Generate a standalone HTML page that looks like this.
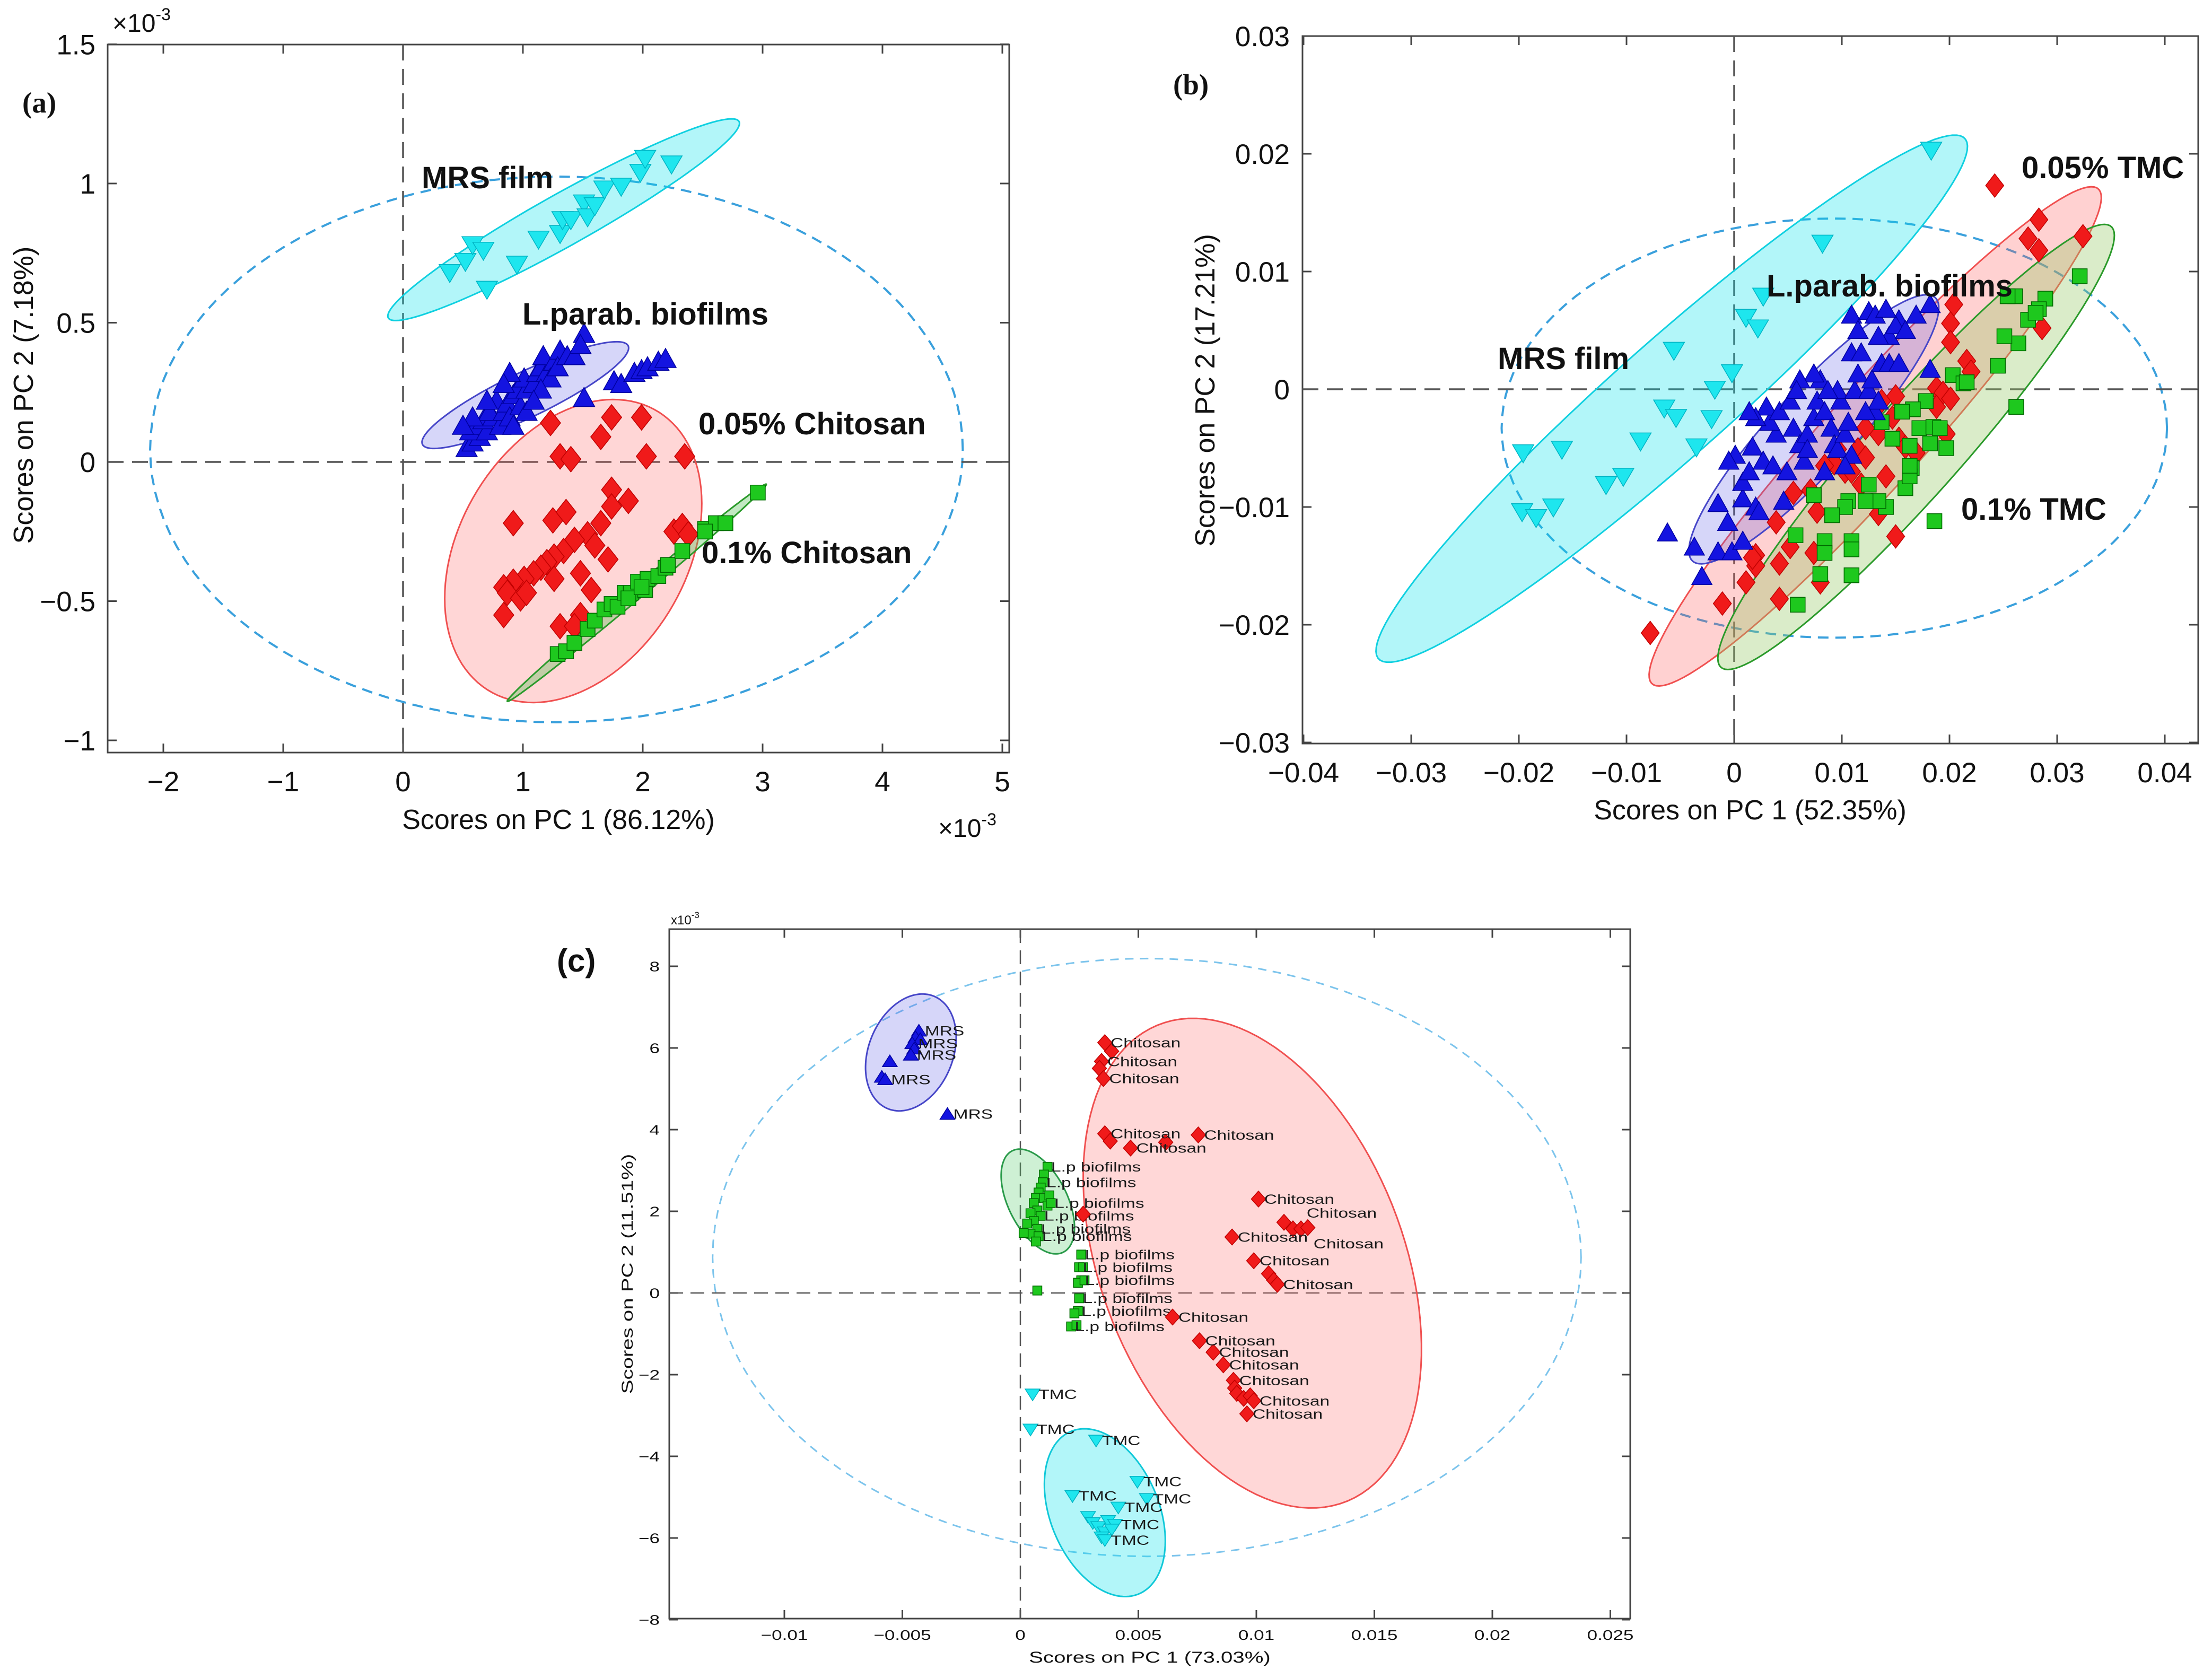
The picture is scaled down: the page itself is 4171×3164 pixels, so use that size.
<!DOCTYPE html>
<html><head><meta charset="utf-8"><title>PCA score plots</title>
<style>html,body{margin:0;padding:0;background:#fff}svg{display:block}</style></head>
<body>
<svg id="fig" xmlns="http://www.w3.org/2000/svg" width="4171" height="3164" viewBox="0 0 4171 3164">
<rect x="0" y="0" width="4171" height="3164" fill="#fff"/>
</svg>
<script>
// ---------- Panel (a) data (x, y in units of 1e-3) ----------
const A_XTICKS=[-2,-1,0,1,2,3,4,5];
const A_XTICK_LABELS=['\u22122','\u22121','0','1','2','3','4','5'];
const A_YTICKS=[-1,-0.5,0,0.5,1,1.5];
const A_YTICK_LABELS=['\u22121','\u22120.5','0','0.5','1','1.5'];
const A_MRS_X=[0.39,0.52,0.58,0.67,0.70,0.95,1.13,1.31,1.33,1.40,1.51,1.54,1.60,1.68,1.82,1.98,2.02,2.24];
const A_MRS_Y=[0.68,0.72,0.78,0.76,0.62,0.71,0.80,0.82,0.87,0.87,0.93,0.88,0.92,0.98,0.99,1.04,1.09,1.07];
const A_LP_X=[0.53,0.58,0.64,0.56,0.61,0.70,0.67,0.75,0.81,0.72,0.84,0.78,0.87,0.92,0.89,0.98,0.95,1.03,1.01,1.09,1.12,1.15,1.20,1.17,1.26,1.23,1.31,1.29,1.37,1.43,1.51,1.48,0.89,0.84,0.70,0.58,0.50,1.51,1.76,1.82,1.93,1.99,2.04,2.13,2.19,1.03,0.92,1.15,1.09];
const A_LP_Y=[0.05,0.07,0.09,0.11,0.13,0.11,0.15,0.16,0.13,0.18,0.18,0.22,0.21,0.24,0.16,0.20,0.26,0.26,0.30,0.28,0.32,0.34,0.32,0.38,0.36,0.30,0.40,0.34,0.38,0.38,0.46,0.42,0.32,0.28,0.22,0.16,0.13,0.23,0.29,0.28,0.32,0.33,0.34,0.36,0.37,0.18,0.13,0.26,0.22];
const A_CH05_X=[1.23,1.74,1.99,1.65,2.03,2.35,1.31,1.40,1.74,1.88,1.74,0.92,1.25,1.36,1.65,1.54,1.60,2.26,2.33,2.38,1.43,1.34,1.26,1.20,1.15,1.09,1.01,0.92,0.84,0.87,0.98,1.03,0.84,1.31,1.48,1.57,1.71,1.48,1.26,1.43];
const A_CH05_Y=[0.14,0.16,0.16,0.09,0.02,0.02,0.02,0.01,-0.10,-0.14,-0.16,-0.22,-0.21,-0.18,-0.22,-0.26,-0.30,-0.25,-0.23,-0.26,-0.28,-0.32,-0.34,-0.36,-0.38,-0.40,-0.42,-0.43,-0.45,-0.47,-0.49,-0.47,-0.55,-0.59,-0.55,-0.46,-0.35,-0.40,-0.42,-0.59];
const A_CH01_X=[1.29,1.36,1.43,1.54,1.60,1.68,1.74,1.79,1.85,1.90,1.96,2.02,2.04,2.13,2.19,2.21,2.33,2.52,2.61,2.69,2.96,2.52,1.88,1.99];
const A_CH01_Y=[-0.69,-0.68,-0.65,-0.60,-0.57,-0.53,-0.51,-0.52,-0.47,-0.47,-0.43,-0.46,-0.42,-0.41,-0.38,-0.37,-0.32,-0.24,-0.22,-0.22,-0.11,-0.25,-0.49,-0.45];
const A_MRS_ELL=[1.34,0.87,1.46,0.355,0.146,-0.072];
const A_LP_ELL=[1.02,0.24,0.854,0.18,0.118,-0.066];
const A_CH05_ELL=[1.42,-0.32,0.534,0.533,0.93,-0.11];
const A_CH01_ELL=[1.95,-0.47,1.08,0.39,0.04,-0.014];
const A_T2_ELL=[1.28,0.045,3.39,0,0,0.98];

// ---------- Panel (b) data (x, y in units of 0.01) ----------
const B_XTICKS=[-4,-3,-2,-1,0,1,2,3,4];
const B_XTICK_LABELS=['\u22120.04','\u22120.03','\u22120.02','\u22120.01','0','0.01','0.02','0.03','0.04'];
const B_YTICKS=[-3,-2,-1,0,1,2,3];
const B_YTICK_LABELS=['\u22120.03','\u22120.02','\u22120.01','0','0.01','0.02','0.03'];
const B_MRS_X=[-1.96,-1.60,-1.19,-1.03,-1.97,-1.84,-1.68,-0.87,-0.35,-0.56,-0.65,-0.54,-0.21,-0.18,-0.02,0.11,0.22,0.27,0.82,1.83];
const B_MRS_Y=[-0.54,-0.51,-0.81,-0.74,-1.04,-1.09,-1.00,-0.44,-0.49,0.33,-0.16,-0.24,-0.25,0.00,0.14,0.61,0.52,0.79,1.24,2.03];
const B_LP_X=[-0.62,-0.30,-0.37,-0.15,-0.02,0.08,-0.06,-0.15,0.08,0.20,0.23,0.08,0.14,0.01,-0.05,0.17,0.27,0.36,0.46,0.49,0.39,0.33,0.30,0.20,0.14,0.42,0.52,0.55,0.61,0.65,0.68,0.74,0.77,0.80,0.74,0.61,0.58,0.84,0.90,0.93,0.96,1.03,1.09,1.06,0.99,0.96,1.12,1.15,1.09,1.18,1.25,1.31,1.34,1.28,1.37,1.44,1.34,1.44,1.53,1.53,1.50,1.59,1.69,1.82,1.82,1.09,1.25,1.31,1.41,1.15,1.03,0.84,0.68,1.22,0.87];
const B_LP_Y=[-1.22,-1.59,-1.34,-1.38,-1.38,-1.29,-1.13,-0.97,-0.93,-1.00,-1.04,-0.79,-0.70,-0.56,-0.61,-0.49,-0.61,-0.65,-0.95,-0.70,-0.38,-0.28,-0.15,-0.24,-0.19,-0.19,-0.10,-0.33,-0.47,-0.61,-0.38,-0.24,-0.10,0.08,0.13,0.08,-0.01,-0.19,-0.33,-0.47,-0.51,-0.38,-0.56,-0.28,-0.10,-0.01,-0.01,0.13,0.31,0.31,-0.01,-0.19,-0.10,0.08,0.22,0.45,0.45,0.22,0.22,0.59,0.54,0.50,0.63,0.72,0.17,0.63,0.66,0.63,0.68,0.50,-0.65,-0.70,-0.51,-0.19,-0.01];
const B_T05_X=[2.42,2.83,2.73,2.83,3.24,2.86,2.04,2.01,2.01,2.16,2.20,1.88,1.94,2.01,1.88,1.97,1.50,1.47,1.53,1.59,1.69,1.37,1.34,1.15,0.96,0.93,1.03,1.41,1.34,1.50,1.18,0.39,0.55,0.77,0.74,0.80,0.52,0.42,0.20,0.20,0.17,0.11,0.42,-0.11,-0.78,1.22,1.09,0.71,0.84,1.22];
const B_T05_Y=[1.73,1.44,1.28,1.18,1.30,0.52,0.72,0.56,0.40,0.24,0.15,0.01,-0.03,-0.08,-0.15,-0.38,-0.06,-0.24,-0.42,-0.49,-0.54,-0.10,-0.38,-0.51,-0.51,-0.63,-0.70,-0.74,-1.06,-1.25,-0.81,-1.13,-0.88,-1.04,-1.39,-1.64,-1.34,-1.48,-1.41,-1.50,-1.43,-1.64,-1.78,-1.82,-2.07,-0.58,-0.70,-0.86,-0.65,-0.33];
const B_T01_X=[3.21,2.89,2.83,2.73,2.80,2.61,2.64,2.51,2.45,2.62,2.03,2.13,2.16,1.78,1.66,1.37,1.72,1.85,1.97,1.82,1.63,1.65,1.59,1.63,1.63,1.25,1.41,1.34,1.22,1.06,1.03,0.91,0.74,0.57,0.84,0.84,1.09,1.09,0.80,1.09,0.59,1.86,2.54,1.56,1.47,1.91];
const B_T01_Y=[0.96,0.77,0.68,0.59,0.65,0.79,0.39,0.45,0.20,-0.15,0.12,0.05,0.06,-0.10,-0.17,-0.28,-0.33,-0.32,-0.50,-0.46,-0.48,-0.67,-0.84,-0.74,-0.65,-0.81,-1.00,-0.95,-0.95,-0.95,-1.00,-1.07,-0.90,-1.24,-1.29,-1.39,-1.29,-1.36,-1.57,-1.58,-1.83,-1.12,0.79,-0.19,-0.42,-0.33];
const B_MRS_ELL=[-0.58,-0.08,2.71,2.22,0.45,-0.29];
const B_LP_ELL=[0.74,-0.34,1.11,1.13,0.34,-0.17];
const B_T05_ELL=[1.31,-0.40,2.06,2.11,0.41,-0.21];
const B_T01_ELL=[1.69,-0.49,1.80,1.88,0.39,-0.20];
const B_T2_ELL=[0.93,-0.33,3.09,0,0,1.78];

// ---------- Panel (c) data (x, y in units of 1e-3) ----------
const C_XTICKS=[-10,-5,0,5,10,15,20,25];
const C_XTICK_LABELS=['\u22120.01','\u22120.005','0','0.005','0.01','0.015','0.02','0.025'];
const C_YTICKS=[-8,-6,-4,-2,0,2,4,6,8];
const C_YTICK_LABELS=['\u22128','\u22126','\u22124','\u22122','0','2','4','6','8'];
const C_MRS_X=[-4.30,-4.44,-4.24,-4.58,-4.50,-4.64,-5.53,-5.87,-5.73,-3.09];
const C_MRS_Y=[6.42,6.26,6.21,6.11,5.98,5.83,5.67,5.29,5.23,4.38];
const C_MRS_LBL=['MRS','','','MRS','','MRS','','','MRS','MRS'];
const C_LP_X=[1.15,1.00,0.95,0.86,0.77,0.66,0.57,1.00,1.23,1.15,0.72,0.43,0.86,0.57,0.29,0.72,0.43,0.14,0.77,0.66,1.29,0.72,2.58,2.49,2.58,2.44,2.49,2.44,2.29,2.15,2.38,2.66,2.72];
const C_LP_Y=[3.09,2.90,2.71,2.58,2.46,2.33,2.20,2.33,2.39,2.14,2.02,1.95,1.89,1.76,1.70,1.57,1.45,1.47,1.39,1.26,2.20,0.06,0.94,0.63,0.31,0.25,-0.13,-0.44,-0.50,-0.82,-0.79,0.63,0.31];
const C_LP_LBL=['L.p biofilms','','L.p biofilms','','','','','','','','','','L.p biofilms','','','L.p biofilms','','','L.p biofilms','','L.p biofilms','','L.p biofilms','L.p biofilms','L.p biofilms','','L.p biofilms','L.p biofilms','','L.p biofilms','','',''];
const C_CH_X=[3.58,3.87,3.44,3.35,3.52,3.58,3.81,4.67,6.16,7.54,10.09,11.17,11.55,11.89,12.18,8.97,9.89,10.52,10.74,10.89,6.45,7.59,8.17,8.60,9.03,9.08,9.17,9.46,9.74,9.89,9.60,2.66];
const C_CH_Y=[6.13,5.92,5.67,5.50,5.25,3.90,3.72,3.55,3.69,3.87,2.30,1.73,1.57,1.57,1.60,1.37,0.79,0.47,0.31,0.21,-0.59,-1.17,-1.45,-1.76,-2.14,-2.33,-2.46,-2.58,-2.52,-2.64,-2.96,1.93];
const C_CH_LBL=['Chitosan','','Chitosan','','Chitosan','Chitosan','','Chitosan','','Chitosan','Chitosan','','','Chitosan','Chitosan','Chitosan','Chitosan','','','Chitosan','Chitosan','Chitosan','Chitosan','Chitosan','Chitosan','','','','','Chitosan','Chitosan',''];
const C_TMC_X=[0.52,0.43,3.21,4.96,2.21,5.36,4.15,2.87,3.07,3.30,3.72,4.01,3.58,3.44,3.87,3.58];
const C_TMC_Y=[-2.48,-3.34,-3.61,-4.62,-4.97,-5.04,-5.25,-5.48,-5.63,-5.73,-5.58,-5.67,-5.86,-5.98,-5.79,-6.05];
const C_TMC_LBL=['TMC','TMC','TMC','TMC','TMC','TMC','TMC','','','','','TMC','','','','TMC'];
const C_MRS_ELL=[-4.64,5.89,0.72,1.42,1.78,-0.18];
const C_LP_ELL=[0.74,2.24,0.95,-1.27,1.23,0.18];
const C_CH_ELL=[9.83,0.73,-2.01,5.98,6.88,-0.44];
const C_TMC_ELL=[3.58,-5.38,1.15,-2.04,2.29,0.25];
const C_T2_ELL=[5.36,0.87,18.4,0,0,7.32];

// ---------- drawing ----------
const NS='http://www.w3.org/2000/svg';
const svg=document.getElementById('fig');
function mk(tag,parent){const e=document.createElementNS(NS,tag);parent.appendChild(e);return e;}
function txt(parent,x,y,s,size,anchor,weight,family,extra){
  const t=mk('text',parent);
  t.setAttribute('x',x);t.setAttribute('y',y);
  t.setAttribute('font-size',size);t.setAttribute('text-anchor',anchor||'start');
  t.setAttribute('font-weight',weight||'normal');
  t.setAttribute('font-family',family||'"Liberation Sans", Arial, sans-serif');
  t.setAttribute('fill','#111');
  if(extra) t.setAttribute('transform',extra);
  t.textContent=s;return t;
}
function ellPath(sx,sy,e){
  let d='';
  for(let i=0;i<=120;i++){const t=i/120*2*Math.PI;
    const x=e[0]+e[2]*Math.cos(t)+e[4]*Math.sin(t);
    const y=e[1]+e[3]*Math.cos(t)+e[5]*Math.sin(t);
    d+=(i?'L':'M')+sx(x).toFixed(1)+','+sy(y).toFixed(1);}
  return d+'Z';
}
function markerPath(shape,x,y,w,h){
  if(shape==='up') return `M${x},${y-h*0.55}L${x+w/2},${y+h*0.45}L${x-w/2},${y+h*0.45}Z`;
  if(shape==='down') return `M${x},${y+h*0.55}L${x+w/2},${y-h*0.45}L${x-w/2},${y-h*0.45}Z`;
  if(shape==='diamond') return `M${x},${y-h/2}L${x+w/2},${y}L${x},${y+h/2}L${x-w/2},${y}Z`;
  return `M${x-w/2},${y-h/2}h${w}v${h}h${-w}Z`;
}
function drawAxes(g,P){
  const f=mk('rect',g);
  
  
  f.setAttribute('x',P.L);f.setAttribute('y',P.T);f.setAttribute('width',P.R-P.L);f.setAttribute('height',P.B-P.T);
  f.setAttribute('fill','none');f.setAttribute('stroke','#444');f.setAttribute('stroke-width',P.lw);
  P.xt.forEach((v,i)=>{const x=P.sx(v);
    const tk=mk('path',g);
    
    
    tk.setAttribute('d',`M${x},${P.B}v${-P.tl}M${x},${P.T}v${P.tl}`);tk.setAttribute('stroke','#444');tk.setAttribute('stroke-width',P.lw);
    const t=txt(g,x,P.xly,P.xl[i],P.fs,'middle','normal',null,P.tsx?`translate(${x},${P.xly}) scale(${P.tsx},1) translate(${-x},${-P.xly})`:null);
    
    
  });
  P.yt.forEach((v,i)=>{const y=P.sy(v);
    const tk=mk('path',g);
    
    
    tk.setAttribute('d',`M${P.L},${y}h${P.tl}M${P.R},${y}h${-P.tl}`);tk.setAttribute('stroke','#444');tk.setAttribute('stroke-width',P.lw);
    const t=txt(g,P.ylx,y+P.fs*0.36,P.yl[i],P.fs,'end','normal',null,P.tsx?`translate(${P.ylx},0) scale(${P.tsx},1) translate(${-P.ylx},0)`:null);
    
    
  });
  const z=mk('path',g);
  
  
  z.setAttribute('d',`M${P.L},${P.sy(0)}H${P.R}M${P.sx(0)},${P.T}V${P.B}`);
  z.setAttribute('stroke','#555');z.setAttribute('stroke-width',P.zw);z.setAttribute('stroke-dasharray',P.zd);z.setAttribute('fill','none');
}
function drawEll(g,P,e,fill,stroke,name,dash,sw){
  const p=mk('path',g);
  
  
  p.setAttribute('d',ellPath(P.sx,P.sy,e));p.setAttribute('fill',fill);p.setAttribute('stroke',stroke);
  p.setAttribute('stroke-width',sw||3);if(dash)p.setAttribute('stroke-dasharray',dash);
}
function drawPts(g,P,xs,ys,shape,w,h,fill,stroke,name,lbls,lblShift){
  const gg=mk('g',g);
  
  
  xs.forEach((v,i)=>{
    const x=P.sx(v),y=P.sy(ys[i]);
    const m=mk('path',gg);
    
    
    m.setAttribute('d',markerPath(shape,x.toFixed(1)*1,y.toFixed(1)*1,w,h));
    m.setAttribute('fill',fill);m.setAttribute('stroke',stroke);m.setAttribute('stroke-width',1.5);
  });
  if(lbls) xs.forEach((v,i)=>{ if(!lbls[i])return;
    const dy=(lblShift&&lblShift[i])||0;
    const x=P.sx(v)+w*0.4,y=P.sy(ys[i])+9+dy;
    const t=txt(gg,x,y,lbls[i],25,'start','normal',null,`translate(${x},0) scale(1.34,1) translate(${-x},0)`);
    
    
    t.setAttribute('fill','#1a1a1a');
  });
}
const CY='#1ee6ee',CYs='#00b4c4',BL='#1414e0',BLs='#0000a0',RD='#f01a1a',RDs='#c00000',GR='#1ec81e',GRs='#006a00';

// ---- Panel (a)
const gA=mk('g',svg);


const PA={name:'panel-a',sx:v=>760+226*v,sy:v=>871-525*v,L:203,R:1903,T:84,B:1419,xt:A_XTICKS,xl:A_XTICK_LABELS,yt:A_YTICKS,yl:A_YTICK_LABELS,
  fs:53,xly:1492,ylx:180,tl:17,lw:3,zw:3.5,zd:'30 16'};
drawEll(gA,PA,A_T2_ELL,'none','#3aa0dc','panel-a-confidence-ellipse','20 13',4);
drawAxes(gA,PA);
drawEll(gA,PA,A_MRS_ELL,'rgba(0,225,235,0.3)','#10d0e0','panel-a-mrs-ellipse');
drawEll(gA,PA,A_LP_ELL,'rgba(90,90,230,0.25)','#4646c8','panel-a-lp-ellipse');
drawEll(gA,PA,A_CH05_ELL,'rgba(255,90,90,0.25)','#f05050','panel-a-chitosan005-ellipse');
drawEll(gA,PA,A_CH01_ELL,'rgba(80,190,80,0.35)','#2a9a2a','panel-a-chitosan01-ellipse');
drawPts(gA,PA,A_MRS_X,A_MRS_Y,'down',40,34,CY,CYs,'panel-a-mrs-film');
drawPts(gA,PA,A_LP_X,A_LP_Y,'up',40,36,BL,BLs,'panel-a-lparab-biofilms');
drawPts(gA,PA,A_CH05_X,A_CH05_Y,'diamond',38,48,RD,RDs,'panel-a-chitosan-005');
drawPts(gA,PA,A_CH01_X,A_CH01_Y,'square',28,28,GR,GRs,'panel-a-chitosan-01');
[['MRS film',795,355],['L.parab. biofilms',985,612],['0.05% Chitosan',1317,819],['0.1% Chitosan',1323,1062]].forEach(a=>{
  const t=txt(gA,a[1],a[2],a[0],58,'start','bold');
  
  });
let t;
t=txt(gA,42,212,'(a)',55,'start','bold','"Liberation Serif", serif');


t=txt(gA,1053,1563,'Scores on PC 1 (86.12%)',52,'middle');


t=txt(gA,0,0,'Scores on PC 2 (7.18%)',52,'middle','normal',null,'translate(62,745) rotate(-90)');


t=txt(gA,212,60,'\u00d710',48);


t.innerHTML='\u00d710<tspan font-size="32" dy="-22">-3</tspan>';
t=txt(gA,1769,1578,'\u00d710',48);


t.innerHTML='\u00d710<tspan font-size="32" dy="-22">-3</tspan>';

// ---- Panel (b)
const gB=mk('g',svg);


const PB={name:'panel-b',sx:v=>3270+203*v,sy:v=>734-222*v,L:2456,R:4145,T:68,B:1402,xt:B_XTICKS,xl:B_XTICK_LABELS,yt:B_YTICKS,yl:B_YTICK_LABELS,
  fs:53,xly:1475,ylx:2432,tl:17,lw:3,zw:3.5,zd:'30 16'};
drawEll(gB,PB,B_T2_ELL,'none','#3aa0dc','panel-b-confidence-ellipse','20 13',4);
drawAxes(gB,PB);
drawEll(gB,PB,B_MRS_ELL,'rgba(0,225,235,0.3)','#10d0e0','panel-b-mrs-ellipse');
drawEll(gB,PB,B_T05_ELL,'rgba(255,90,90,0.28)','#f05050','panel-b-tmc005-ellipse');
drawEll(gB,PB,B_T01_ELL,'rgba(150,200,100,0.35)','#2a9a2a','panel-b-tmc01-ellipse');
drawEll(gB,PB,B_LP_ELL,'rgba(90,90,230,0.25)','#4646c8','panel-b-lp-ellipse');
drawPts(gB,PB,B_MRS_X,B_MRS_Y,'down',40,34,CY,CYs,'panel-b-mrs-film');
drawPts(gB,PB,B_T05_X,B_T05_Y,'diamond',34,44,RD,RDs,'panel-b-tmc-005');
drawPts(gB,PB,B_T01_X,B_T01_Y,'square',28,28,GR,GRs,'panel-b-tmc-01');
drawPts(gB,PB,B_LP_X,B_LP_Y,'up',38,34,BL,BLs,'panel-b-lparab-biofilms');
[['0.05% TMC',3812,336],['L.parab. biofilms',3331,559],['MRS film',2824,696],['0.1% TMC',3698,980]].forEach(a=>{
  const t=txt(gB,a[1],a[2],a[0],58,'start','bold');
  
  });
t=txt(gB,2212,178,'(b)',55,'start','bold','"Liberation Serif", serif');


t=txt(gB,3300,1545,'Scores on PC 1 (52.35%)',52,'middle');


t=txt(gB,0,0,'Scores on PC 2 (17.21%)',52,'middle','normal',null,'translate(2290,736) rotate(-90)');



// ---- Panel (c)
const gC=mk('g',svg);


const PC={name:'panel-c',sx:v=>1924+44.5*v,sy:v=>2438-77*v,L:1262,R:3074,T:1752,B:3052,xt:C_XTICKS,xl:C_XTICK_LABELS,yt:C_YTICKS,yl:C_YTICK_LABELS,
  fs:26,xly:3092,ylx:1244,tl:16,lw:3,zw:2.5,zd:'26 14',tsx:1.35};
drawEll(gC,PC,C_T2_ELL,'none','#7cc4ec','panel-c-confidence-ellipse','16 12',3);
drawAxes(gC,PC);
drawEll(gC,PC,C_MRS_ELL,'rgba(90,90,230,0.25)','#4646c8','panel-c-mrs-ellipse');
drawEll(gC,PC,C_LP_ELL,'rgba(80,200,100,0.28)','#2a9a4a','panel-c-lp-ellipse');
drawEll(gC,PC,C_CH_ELL,'rgba(255,110,110,0.28)','#f05050','panel-c-chitosan-ellipse');
drawEll(gC,PC,C_TMC_ELL,'rgba(0,225,235,0.3)','#10c8d8','panel-c-tmc-ellipse');
drawPts(gC,PC,C_MRS_X,C_MRS_Y,'up',28,22,BL,BLs,'panel-c-mrs',C_MRS_LBL);
drawPts(gC,PC,C_LP_X,C_LP_Y,'square',17,17,GR,GRs,'panel-c-lp-biofilms',C_LP_LBL);
const chShift={13:-30,14:30};
drawPts(gC,PC,C_CH_X,C_CH_Y,'diamond',27,30,RD,RDs,'panel-c-chitosan',C_CH_LBL,chShift);
drawPts(gC,PC,C_TMC_X,C_TMC_Y,'down',28,22,CY,CYs,'panel-c-tmc',C_TMC_LBL);
t=txt(gC,1050,1832,'(c)',60,'start','bold');


t=txt(gC,2168,3135,'Scores on PC 1 (73.03%)',30,'middle','normal',null,'translate(2168,0) scale(1.34,1) translate(-2168,0)');


t=txt(gC,0,0,'Scores on PC 2 (11.51%)',30,'middle','normal',null,'translate(1193,2402) rotate(-90) scale(1.34,1)');


t=txt(gC,1265,1743,'x10',24);


t.innerHTML='x10<tspan font-size="17" dy="-12">-3</tspan>';
</script>
</body></html>
